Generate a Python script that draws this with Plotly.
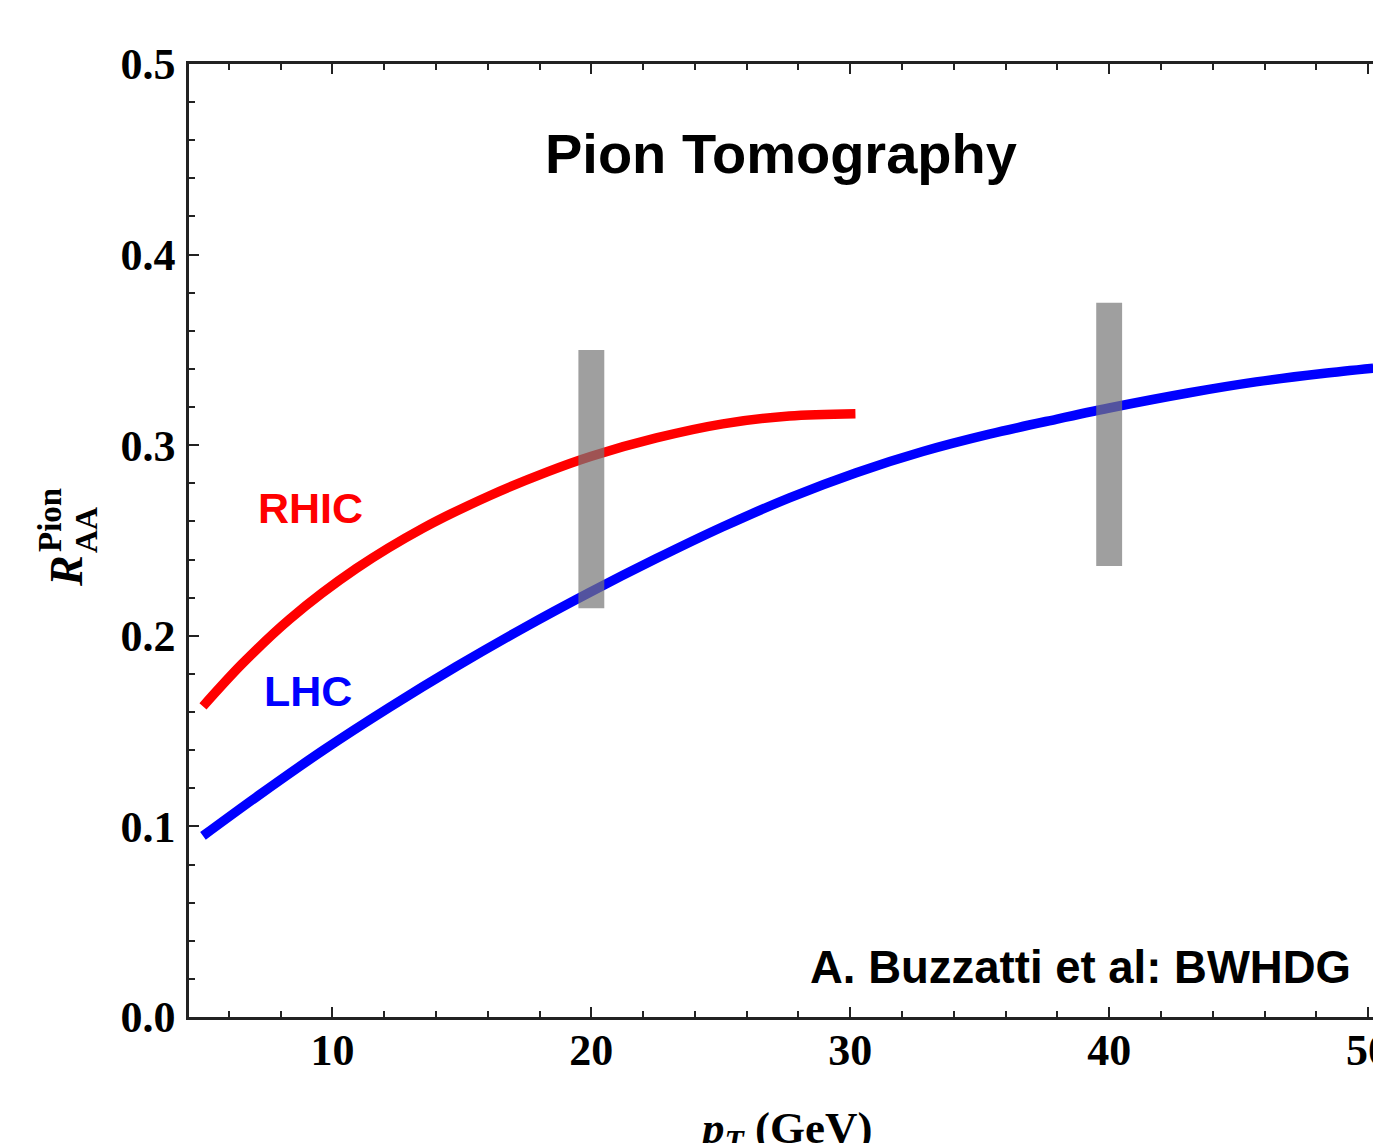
import plotly.graph_objects as go

# ---- data ----
pt_rhic = [5.0, 6.5, 8.35, 10.92, 13.5, 16.07, 18.3, 20.0, 22.51, 25.08, 27.65, 30.2]
raa_rhic = [0.163, 0.1851, 0.2088, 0.2353, 0.2565, 0.2735, 0.2860, 0.2942, 0.3038, 0.3112, 0.3153, 0.3165]

pt_lhc = [5.0, 7.06, 9.63, 12.21, 14.78, 17.36, 19.93, 22.51, 25.08, 27.65, 30.23,
          32.8, 35.37, 37.95, 40.0, 43.1, 45.67, 48.24, 50.2]
raa_lhc = [0.0950, 0.1154, 0.1398, 0.1625, 0.1838, 0.2039, 0.2227, 0.2405, 0.2572, 0.2724,
           0.2856, 0.2967, 0.3058, 0.3136, 0.3195, 0.3275, 0.3332, 0.3376, 0.3404]

band_pt = [20, 40]
band_low = [0.2144, 0.2366]
band_high = [0.350, 0.3748]

x_ticks = [10, 20, 30, 40, 50]
y_ticks = [0.0, 0.1, 0.2, 0.3, 0.4, 0.5]

# ---- layout constants ----
W, H = 1373, 1143
ML, MR, MT, MB = 189, 0, 64, 126
PW, PH = W - ML - MR, H - MT - MB
BAND_W = 1.0
X_RANGE = [4.46, 50.19]

def px(x):
    return (x - ML) / PW

def py(y):
    return (H - MB - y) / PH

fig = go.Figure()
fig.add_trace(go.Scatter(x=pt_rhic, y=raa_rhic, mode="lines",
                         line=dict(color="#ff0000", width=9.5, shape="spline", smoothing=0.9), showlegend=False))
fig.add_trace(go.Scatter(x=pt_lhc, y=raa_lhc, mode="lines",
                         line=dict(color="#0000ff", width=9.5, shape="spline", smoothing=0.9), showlegend=False))

for c, lo, hi in zip(band_pt, band_low, band_high):
    fig.add_trace(go.Scatter(
        x=[c - BAND_W / 2, c + BAND_W / 2, c + BAND_W / 2, c - BAND_W / 2, c - BAND_W / 2],
        y=[lo, lo, hi, hi, lo], mode="lines", fill="toself",
        fillcolor="rgba(118,118,118,0.7)", line=dict(width=0), showlegend=False))

# invisible carrier trace so the top (mirror) axis gets drawn
fig.add_trace(go.Scatter(x=pt_lhc, y=raa_lhc, xaxis="x2", yaxis="y", mode="lines",
                         line=dict(width=0), opacity=0, hoverinfo="skip", showlegend=False))

tickfont = dict(family="Liberation Serif", size=44, color="black", weight="bold")
axis_common = dict(showgrid=False, zeroline=False, showline=True, linewidth=2.5, linecolor="#222",
                   ticks="inside", tickcolor="#222", tickwidth=2, ticklen=10,
                   ticklabeloverflow="allow", tickfont=tickfont)
minor_x = dict(dtick=2, tick0=0, ticks="inside", ticklen=6, tickwidth=2, tickcolor="#222", showgrid=False)

fig.update_layout(
    xaxis=dict(range=X_RANGE, tickvals=x_ticks, mirror=False, minor=minor_x,
               ticklabelstandoff=-8, **axis_common),
    xaxis2=dict(range=X_RANGE, tickvals=x_ticks, overlaying="x", side="top", anchor="y",
                showticklabels=False, mirror=False, minor=minor_x, **axis_common),
    yaxis=dict(range=[0, 0.5], tickvals=y_ticks, tickformat=".1f", mirror=False,
               minor=dict(dtick=0.02, tick0=0, ticks="inside", ticklen=6, tickwidth=2, tickcolor="#222", showgrid=False),
               ticklabelstandoff=2, **axis_common),
)

ann = []
ann.append(dict(text="Pion Tomography", x=px(781), y=py(153), xref="paper", yref="paper",
                showarrow=False, xanchor="center", yanchor="middle",
                font=dict(family="Liberation Sans", size=56, color="black", weight="bold")))
ann.append(dict(text="RHIC", x=px(310.5), y=py(507.5), xref="paper", yref="paper",
                showarrow=False, xanchor="center", yanchor="middle",
                font=dict(family="Liberation Sans", size=43, color="#ff0000", weight="bold")))
ann.append(dict(text="LHC", x=px(308.3), y=py(690.8), xref="paper", yref="paper",
                showarrow=False, xanchor="center", yanchor="middle",
                font=dict(family="Liberation Sans", size=43, color="#0000ff", weight="bold")))
ann.append(dict(text="A. Buzzatti et al: BWHDG", x=px(1080), y=py(967.5), xref="paper", yref="paper",
                showarrow=False, xanchor="center", yanchor="middle",
                font=dict(family="Liberation Sans", size=45.5, color="black", weight="bold")))
# x-axis title
ann.append(dict(text="<i>p</i><sub><i>T</i></sub> (GeV)", x=px(785), y=py(1101), xref="paper", yref="paper",
                showarrow=False, xanchor="center", yanchor="top",
                font=dict(family="Liberation Serif", size=45, color="black", weight="bold")))
# y-axis title pieces (rotated)
ann.append(dict(text="<i>R</i>", x=px(66), y=py(571), xref="paper", yref="paper", textangle=-90,
                showarrow=False, xanchor="center", yanchor="middle",
                font=dict(family="Liberation Serif", size=46, color="black", weight="bold")))
ann.append(dict(text="Pion", x=px(50), y=py(520), xref="paper", yref="paper", textangle=-90,
                showarrow=False, xanchor="center", yanchor="middle",
                font=dict(family="Liberation Serif", size=33, color="black", weight="bold")))
ann.append(dict(text="AA", x=px(86), y=py(530), xref="paper", yref="paper", textangle=-90,
                showarrow=False, xanchor="center", yanchor="middle",
                font=dict(family="Liberation Serif", size=32, color="black", weight="bold")))

fig.update_layout(width=W, height=H, margin=dict(l=ML, r=MR, t=MT, b=MB, autoexpand=False),
                  paper_bgcolor="white", plot_bgcolor="white", annotations=ann, showlegend=False)

fig.write_html("out.html", config={"displayModeBar": False})
